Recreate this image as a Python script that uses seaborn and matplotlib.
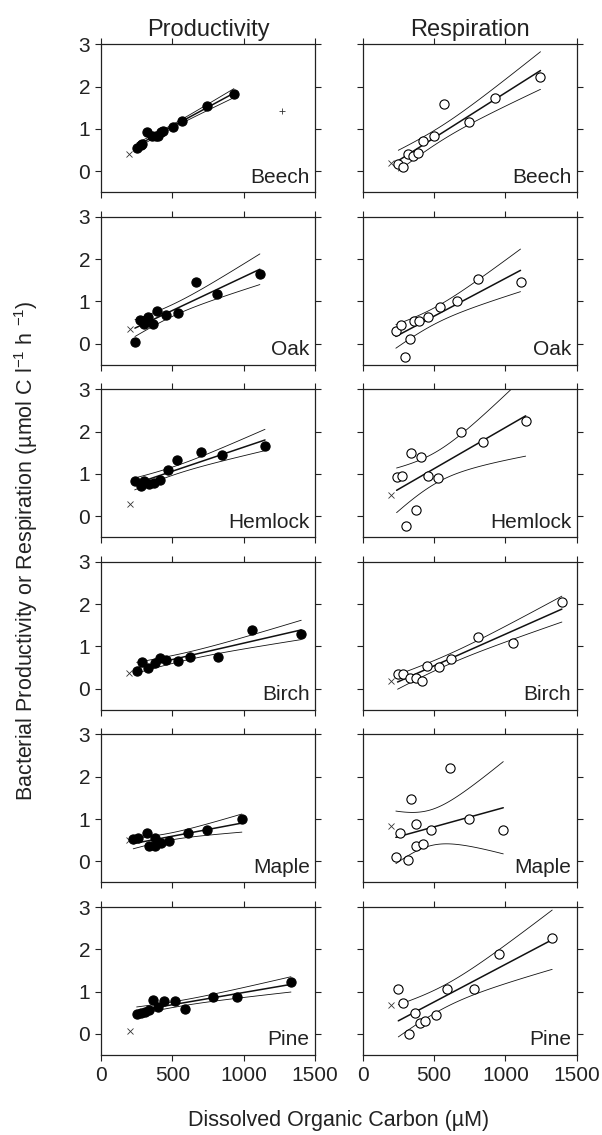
import numpy as np
import matplotlib
matplotlib.use("Agg")
import matplotlib.pyplot as plt
import seaborn as sns

# DOC (uM) vs bacterial productivity / respiration
trees = ["Beech", "Oak", "Hemlock", "Birch", "Maple", "Pine"]

beech_prod_x = [249, 278, 290, 322, 356, 382, 399, 423, 435, 503, 568, 745, 931]
beech_prod_y = [0.54, 0.62, 0.64, 0.92, 0.82, 0.82, 0.84, 0.92, 0.94, 1.05, 1.18, 1.54, 1.82]
beech_resp_x = [249, 280, 316, 353, 389, 425, 502, 570, 744, 925, 1246]
beech_resp_y = [0.17, 0.09, 0.41, 0.35, 0.42, 0.71, 0.84, 1.59, 1.15, 1.74, 2.22]

oak_prod_x = [237, 271, 298, 331, 363, 394, 455, 539, 665, 810, 1113]
oak_prod_y = [0.04, 0.56, 0.46, 0.62, 0.46, 0.78, 0.68, 0.72, 1.45, 1.18, 1.65]
oak_resp_x = [232, 268, 297, 328, 357, 394, 454, 539, 664, 809, 1106]
oak_resp_y = [0.29, 0.45, -0.32, 0.10, 0.54, 0.53, 0.62, 0.86, 1.00, 1.54, 1.45]

hemlock_prod_x = [235, 278, 302, 339, 370, 411, 467, 532, 697, 847, 1149]
hemlock_prod_y = [0.83, 0.72, 0.84, 0.77, 0.79, 0.85, 1.09, 1.34, 1.51, 1.45, 1.66]
hemlock_resp_x = [237, 278, 304, 338, 370, 406, 459, 526, 691, 845, 1142]
hemlock_resp_y = [0.93, 0.94, -0.22, 1.49, 0.14, 1.39, 0.95, 0.91, 2.00, 1.76, 2.26]

birch_prod_x = [249, 285, 331, 375, 416, 452, 537, 622, 818, 1060, 1403]
birch_prod_y = [0.42, 0.64, 0.50, 0.60, 0.72, 0.68, 0.66, 0.75, 0.75, 1.40, 1.30]
birch_resp_x = [244, 285, 328, 374, 418, 447, 534, 618, 811, 1053, 1396]
birch_resp_y = [0.34, 0.34, 0.26, 0.26, 0.18, 0.54, 0.52, 0.70, 1.22, 1.08, 2.04]

maple_prod_x = [225, 261, 319, 338, 375, 375, 419, 477, 612, 743, 987]
maple_prod_y = [0.53, 0.55, 0.66, 0.36, 0.55, 0.36, 0.43, 0.47, 0.66, 0.73, 1.00]
maple_resp_x = [232, 261, 314, 338, 374, 374, 425, 478, 611, 744, 985]
maple_resp_y = [0.10, 0.67, 0.04, 1.48, 0.89, 0.37, 0.42, 0.73, 2.21, 0.99, 0.73]

pine_prod_x = [249, 278, 307, 334, 363, 399, 440, 515, 588, 782, 956, 1331]
pine_prod_y = [0.48, 0.50, 0.52, 0.56, 0.80, 0.64, 0.78, 0.78, 0.58, 0.86, 0.86, 1.22]
pine_resp_x = [249, 285, 326, 365, 399, 435, 514, 587, 780, 956, 1328]
pine_resp_y = [1.06, 0.74, 0.00, 0.50, 0.26, 0.30, 0.44, 1.06, 1.06, 1.90, 2.26]

# "x" reference marks (productivity, respiration); None = not shown
xmark_prod = [(198, 0.41), (200, 0.34), (200, 0.29), (198, 0.38), (194, 0.50), (201, 0.06)]
xmark_resp = [(200, 0.20), None, (200, 0.51), (200, 0.18), (196, 0.83), (200, 0.68)]
plus_mark = (1265, 1.43)  # beech productivity

prod = [(beech_prod_x, beech_prod_y), (oak_prod_x, oak_prod_y), (hemlock_prod_x, hemlock_prod_y),
        (birch_prod_x, birch_prod_y), (maple_prod_x, maple_prod_y), (pine_prod_x, pine_prod_y)]
resp = [(beech_resp_x, beech_resp_y), (oak_resp_x, oak_resp_y), (hemlock_resp_x, hemlock_resp_y),
        (birch_resp_x, birch_resp_y), (maple_resp_x, maple_resp_y), (pine_resp_x, pine_resp_y)]

T975 = {8: 2.306, 9: 2.262, 10: 2.228, 11: 2.201, 12: 2.179, 13: 2.160}


def fit_lines(x, y):
    x = np.asarray(x, float)
    y = np.asarray(y, float)
    n = len(x)
    b, a = np.polyfit(x, y, 1)
    resid = y - (a + b * x)
    s = np.sqrt(np.sum(resid ** 2) / (n - 2))
    sxx = np.sum((x - x.mean()) ** 2)
    xg = np.linspace(x.min(), x.max(), 100)
    yg = a + b * xg
    half = T975[n - 2] * s * np.sqrt(1 / n + (xg - x.mean()) ** 2 / sxx)
    return xg, yg, yg - half, yg + half


sns.set_theme(style="ticks")
plt.rcParams["font.family"] = ["Liberation Sans", "DejaVu Sans"]
plt.rcParams["mathtext.fontset"] = "custom"
plt.rcParams["mathtext.rm"] = "Liberation Sans"
plt.rcParams["mathtext.it"] = "Liberation Sans"
plt.rcParams["axes.linewidth"] = 0.9
plt.rcParams["axes.edgecolor"] = "#222222"

fig, axes = plt.subplots(6, 2, figsize=(6.02, 11.35), dpi=100)
fig.subplots_adjust(left=0.168, right=0.958, top=0.961, bottom=0.0705,
                    wspace=0.223, hspace=0.166)

for i, tree in enumerate(trees):
    for j, (data, filled) in enumerate([(prod[i], True), (resp[i], False)]):
        ax = axes[i, j]
        x, y = data
        xg, yg, lo, hi = fit_lines(x, y)
        ax.plot(xg, lo, color="#111111", lw=0.6)
        ax.plot(xg, hi, color="#111111", lw=0.6)
        ax.plot(xg, yg, color="#111111", lw=1.1)
        sns.scatterplot(x=x, y=y, ax=ax, s=44, zorder=3,
                        color="black" if filled else "white",
                        edgecolor="black", linewidth=0.8)
        mark = xmark_prod[i] if j == 0 else xmark_resp[i]
        if mark is not None:
            ax.plot(mark[0], mark[1], marker="x", ms=4, mew=0.6, color="#333333", ls="none")
        if i == 0 and j == 0:
            ax.plot(plus_mark[0], plus_mark[1], marker="+", ms=5, mew=0.6, color="#333333", ls="none")

        ax.set_xlim(0, 1500)
        ax.set_ylim(-0.5, 3)
        ax.set_xticks([0, 500, 1000, 1500])
        ax.set_yticks([0, 1, 2, 3])
        ax.tick_params(direction="out", length=4, width=0.8, labelsize=15,
                       top=True, right=True, pad=4, colors="#222222")
        ax.tick_params(labelcolor="#222222")
        if j == 1:
            ax.set_yticklabels([])
        if i < 5:
            ax.set_xticklabels([])
        for sp in ax.spines.values():
            sp.set_visible(True)
        ax.text(0.975, 0.065, tree, transform=ax.transAxes, ha="right", va="baseline",
                fontsize=15, color="#222222")

axes[0, 0].set_title("Productivity", fontsize=17, pad=6, color="#222222")
axes[0, 1].set_title("Respiration", fontsize=17, pad=6, color="#222222")

fig.text(0.563, 0.013, "Dissolved Organic Carbon (\u00b5M)", ha="center", va="center",
         fontsize=15.5, color="#222222")
fig.text(0.043, 0.515, "Bacterial Productivity or Respiration (\u00b5mol C l$^{-1}$ h $^{-1}$)",
         rotation=90, ha="center", va="center", fontsize=15.5, color="#222222")

fig.savefig("out.png", dpi=100)
